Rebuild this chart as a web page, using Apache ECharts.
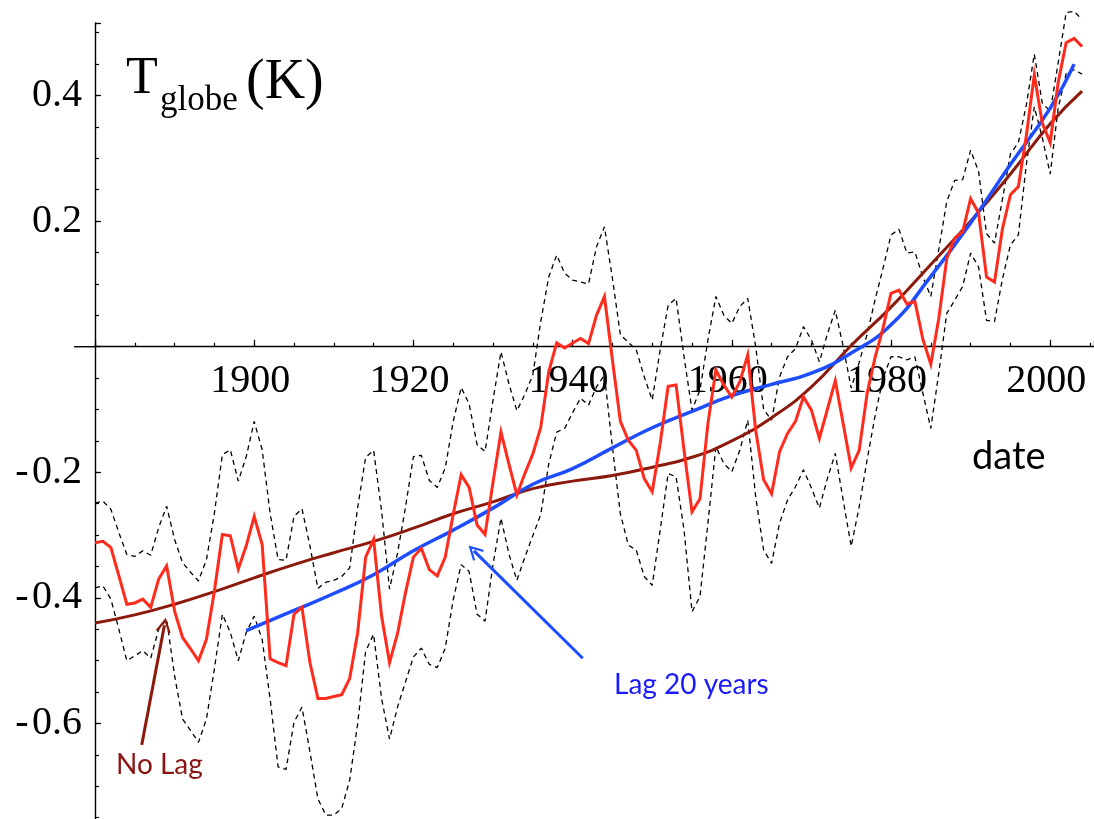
<!DOCTYPE html>
<html>
<head>
<meta charset="utf-8">
<style>
  html, body { margin: 0; padding: 0; background: #ffffff; }
  #chart { width: 1094px; height: 819px; }
</style>
<script src="https://cdn.jsdelivr.net/npm/echarts@6/dist/echarts.min.js"></script>
</head>
<body>
<div id="chart"></div>
<script>
// Annual global temperature anomaly (K), one value per year from 1880
const firstYear = 1880;
const anomaly = [
  -0.312, -0.310, -0.320, -0.365, -0.410, -0.408, -0.402, -0.415, -0.370, -0.349,
  -0.421, -0.463, -0.481, -0.500, -0.466, -0.389, -0.299, -0.301, -0.354, -0.317,
  -0.270, -0.315, -0.497, -0.503, -0.508, -0.426, -0.415, -0.503, -0.560, -0.560,
  -0.557, -0.554, -0.528, -0.455, -0.335, -0.307, -0.429, -0.503, -0.457, -0.392,
  -0.335, -0.321, -0.355, -0.365, -0.335, -0.267, -0.204, -0.224, -0.284, -0.299,
  -0.216, -0.136, -0.187, -0.236, -0.202, -0.171, -0.128, -0.040, 0.006, -0.002,
  0.006, 0.013, 0.005, 0.050, 0.080, -0.021, -0.119, -0.149, -0.165, -0.210,
  -0.231, -0.154, -0.063, -0.061, -0.165, -0.263, -0.242, -0.122, -0.037, -0.061,
  -0.080, -0.056, -0.013, -0.133, -0.212, -0.234, -0.167, -0.138, -0.119, -0.080,
  -0.101, -0.146, -0.100, -0.054, -0.123, -0.193, -0.165, -0.074, -0.017, 0.030,
  0.085, 0.090, 0.068, 0.072, 0.012, -0.028, 0.045, 0.140, 0.173, 0.183,
  0.236, 0.213, 0.111, 0.103, 0.188, 0.242, 0.255, 0.336, 0.433, 0.356,
  0.325, 0.421, 0.484, 0.491, 0.478
];

// Upper edge of the uncertainty band
const upperBound = [
  -0.249, -0.246, -0.259, -0.296, -0.331, -0.334, -0.325, -0.332, -0.288, -0.254,
  -0.307, -0.344, -0.359, -0.373, -0.339, -0.265, -0.172, -0.164, -0.214, -0.175,
  -0.119, -0.164, -0.265, -0.339, -0.340, -0.270, -0.258, -0.317, -0.385, -0.375,
  -0.372, -0.366, -0.352, -0.256, -0.176, -0.165, -0.261, -0.386, -0.329, -0.256,
  -0.175, -0.173, -0.213, -0.224, -0.193, -0.119, -0.065, -0.091, -0.156, -0.167,
  -0.085, -0.008, -0.059, -0.102, -0.076, -0.045, 0.040, 0.111, 0.146, 0.117,
  0.106, 0.103, 0.100, 0.159, 0.191, 0.109, 0.019, 0.007, -0.005, -0.048,
  -0.085, -0.005, 0.066, 0.077, -0.016, -0.101, -0.069, 0.011, 0.080, 0.050,
  0.037, 0.064, 0.077, 0.000, -0.100, -0.117, -0.048, -0.016, -0.003, 0.032,
  0.011, -0.024, 0.020, 0.058, 0.000, -0.066, -0.025, 0.020, 0.075, 0.125,
  0.178, 0.187, 0.149, 0.151, 0.111, 0.080, 0.155, 0.231, 0.265, 0.266,
  0.313, 0.279, 0.180, 0.165, 0.235, 0.307, 0.325, 0.385, 0.466, 0.388,
  0.375, 0.452, 0.532, 0.534, 0.521
];

// Lower edge of the uncertainty band
const lowerBound = [
  -0.384, -0.381, -0.402, -0.450, -0.500, -0.492, -0.484, -0.496, -0.450, -0.434,
  -0.524, -0.593, -0.611, -0.630, -0.593, -0.513, -0.426, -0.455, -0.500, -0.455,
  -0.429, -0.466, -0.561, -0.669, -0.673, -0.598, -0.574, -0.645, -0.720, -0.746,
  -0.746, -0.735, -0.690, -0.600, -0.485, -0.458, -0.560, -0.625, -0.574, -0.534,
  -0.494, -0.480, -0.506, -0.511, -0.480, -0.403, -0.347, -0.358, -0.426, -0.437,
  -0.347, -0.273, -0.330, -0.372, -0.335, -0.301, -0.267, -0.187, -0.136, -0.130,
  -0.105, -0.082, -0.093, -0.064, -0.045, -0.160, -0.266, -0.316, -0.324, -0.366,
  -0.380, -0.292, -0.202, -0.207, -0.292, -0.422, -0.398, -0.281, -0.159, -0.186,
  -0.199, -0.165, -0.117, -0.239, -0.324, -0.345, -0.281, -0.244, -0.223, -0.196,
  -0.225, -0.257, -0.210, -0.170, -0.245, -0.318, -0.255, -0.180, -0.110, -0.050,
  -0.016, -0.016, -0.021, -0.016, -0.074, -0.130, -0.042, 0.053, 0.074, 0.096,
  0.149, 0.127, 0.042, 0.040, 0.108, 0.162, 0.178, 0.290, 0.382, 0.333,
  0.275, 0.380, 0.435, 0.441, 0.434
];

// Model response without lag
const noLagYears = [1880, 1885, 1890, 1895, 1900, 1905, 1910, 1915, 1920, 1925, 1930, 1935, 1940,
  1945, 1950, 1955, 1960, 1965, 1970, 1975, 1980, 1985, 1990, 1995, 2000, 2004];
const noLagValues = [-0.440, -0.427, -0.410, -0.390, -0.368, -0.347, -0.328, -0.310, -0.289, -0.266,
  -0.247, -0.226, -0.214, -0.205, -0.192, -0.176, -0.150, -0.113, -0.064, 0.002, 0.063, 0.131,
  0.200, 0.275, 0.355, 0.407];

// Model response with a 20-year lag
const lag20Years = [1899, 1905, 1910, 1915, 1920, 1925, 1930, 1935, 1940, 1945, 1950, 1955,
  1960, 1965, 1970, 1975, 1980, 1985, 1990, 1995, 2000, 2003];
const lag20Values = [-0.452, -0.420, -0.393, -0.363, -0.325, -0.292, -0.257, -0.219, -0.194,
  -0.161, -0.129, -0.103, -0.078, -0.060, -0.042, -0.010, 0.035, 0.112, 0.197, 0.290, 0.380, 0.450];

// Tick labels
const yearTickLabels = [1900, 1920, 1940, 1960, 1980, 2000];
const tempTickLabels = [-0.6, -0.4, -0.2, 0.2, 0.4];

const years = anomaly.map((_, i) => firstYear + i);
const pairs = (xs, ys) => ys.map((v, i) => [xs[i], v]);

const serif = '"Liberation Serif", "DejaVu Serif", serif';
const sans = 'Lato, "Open Sans", "Liberation Sans", sans-serif';
const RED = '#ff2b1c';
const DARK_RED = '#8c1a0c';
const BLUE = '#1d4dff';

// chevron-shaped open arrowhead
const arrowHead = 'path://M0,0L12,16L9.2,17.6L0,5.2L-9.2,17.6L-12,16Z';

const X_MIN = 1880, X_MAX = 2005.5;
const Y_MIN = -0.8, Y_MAX = 0.5155;

// Plot layout (pixels)
const W = 1094, H = 819;
const PLOT_LEFT = 95, PLOT_TOP = 23, PLOT_BOTTOM = -30.1;
const plotHeight = H - PLOT_TOP - PLOT_BOTTOM;
const zeroY = PLOT_TOP + (Y_MAX / (Y_MAX - Y_MIN)) * plotHeight;

const yearLabel = (v) => {
  const n = Math.round(Number(v));
  return (yearTickLabels.indexOf(n) >= 0 && Math.abs(Number(v) - n) < 1e-6) ? String(n) : '';
};
const tempLabel = (v) => {
  const hit = tempTickLabels.find(t => Math.abs(t - Number(v)) < 1e-6);
  if (hit === undefined) return '';
  return hit < 0 ? '-\u200A' + (-hit).toFixed(1) : hit.toFixed(1);
};

const chart = echarts.init(document.getElementById('chart'), null, { renderer: 'canvas' });

chart.setOption({
  animation: false,
  backgroundColor: '#ffffff',
  grid: [
    // data area
    { left: PLOT_LEFT, right: 0, top: PLOT_TOP, bottom: PLOT_BOTTOM, containLabel: false, outerBoundsMode: 'none' },
    // band whose lower edge is the zero line; carries the year axis
    { left: PLOT_LEFT, right: 0, top: PLOT_TOP, bottom: H - zeroY, containLabel: false, outerBoundsMode: 'none' }
  ],
  xAxis: [
    {
      gridIndex: 0, type: 'value', min: X_MIN, max: X_MAX, show: false,
      splitLine: { show: false }
    },
    {
      // 5-year ticks with labels every 20 years
      gridIndex: 1, type: 'value', min: X_MIN, max: X_MAX, position: 'bottom', interval: 5,
      splitLine: { show: false },
      axisLine: { onZero: false, lineStyle: { color: '#000', width: 1.4 } },
      axisTick: { inside: true, length: 4, lineStyle: { color: '#000', width: 1.2 } },
      axisLabel: {
        margin: 15,
        color: '#000',
        fontFamily: serif,
        fontSize: 40,
        lineHeight: 40,
        padding: [0, 8, 0, 0],
        formatter: yearLabel
      }
    },
    {
      // longer ticks every 20 years
      gridIndex: 1, type: 'value', min: X_MIN, max: X_MAX, position: 'bottom', interval: 20,
      splitLine: { show: false },
      axisLine: { show: true, onZero: false, lineStyle: { color: '#000', opacity: 0 } },
      axisTick: { inside: true, length: 7, lineStyle: { color: '#000', width: 1.2 } },
      axisLabel: { show: false }
    }
  ],
  yAxis: [
    {
      gridIndex: 0, type: 'value', min: Y_MIN, max: Y_MAX, position: 'left', interval: 0.05,
      splitLine: { show: false },
      axisLine: { onZero: false, lineStyle: { color: '#000', width: 1.4 } },
      axisTick: { inside: true, length: 4, lineStyle: { color: '#000', width: 1.2 } },
      axisLabel: { show: false }
    },
    {
      gridIndex: 0, type: 'value', min: Y_MIN, max: Y_MAX, position: 'left', interval: 0.2,
      splitLine: { show: false },
      axisLine: { show: true, onZero: false, lineStyle: { color: '#000', opacity: 0 } },
      axisTick: { inside: true, length: 6, lineStyle: { color: '#000', width: 1.2 } },
      axisLabel: {
        margin: 13,
        color: '#000',
        fontFamily: serif,
        fontSize: 40,
        lineHeight: 40,
        padding: [0, 0, 14, 0],
        formatter: tempLabel
      }
    },
    {
      gridIndex: 1, type: 'value', min: 0, max: 1, show: false,
      splitLine: { show: false }
    }
  ],
  series: [
    {
      name: 'upper', type: 'line', data: pairs(years, upperBound),
      xAxisIndex: 0, yAxisIndex: 0,
      symbol: 'none', clip: false, silent: true, z: 2,
      lineStyle: { color: '#000', width: 1.3, type: [5, 4] }
    },
    {
      name: 'lower', type: 'line', data: pairs(years, lowerBound),
      xAxisIndex: 0, yAxisIndex: 0,
      symbol: 'none', clip: false, silent: true, z: 2,
      lineStyle: { color: '#000', width: 1.3, type: [5, 4] }
    },
    {
      name: 'No Lag', type: 'line', data: pairs(noLagYears, noLagValues),
      xAxisIndex: 0, yAxisIndex: 0,
      symbol: 'none', smooth: 0.5, clip: false, silent: true, z: 3,
      lineStyle: { color: DARK_RED, width: 3 },
      markLine: {
        silent: true, animation: false,
        symbol: ['none', arrowHead], symbolSize: [15, 15],
        label: { show: false },
        lineStyle: { color: DARK_RED, width: 3, type: 'solid' },
        data: [[ { coord: [1885.87, -0.634] }, { coord: [1888.72, -0.4435] } ]]
      }
    },
    {
      name: 'Lag 20 years', type: 'line', data: pairs(lag20Years, lag20Values),
      xAxisIndex: 0, yAxisIndex: 0,
      symbol: 'none', smooth: 0.5, clip: false, silent: true, z: 4,
      lineStyle: { color: BLUE, width: 3.5 },
      markLine: {
        silent: true, animation: false,
        symbol: ['none', arrowHead], symbolSize: [15, 15],
        label: { show: false },
        lineStyle: { color: BLUE, width: 3, type: 'solid' },
        data: [[ { coord: [1941.27, -0.496] }, { coord: [1927.6, -0.325] } ]]
      }
    },
    {
      name: 'T globe', type: 'line', data: pairs(years, anomaly),
      xAxisIndex: 0, yAxisIndex: 0,
      symbol: 'none', clip: false, silent: true, z: 5,
      lineStyle: { color: RED, width: 3, join: 'miter' }
    }
  ]
});

// Axis line continues a little to the left of the vertical axis, plus the texts
const origin = chart.convertToPixel({ xAxisIndex: 0, yAxisIndex: 0 }, [X_MIN, 0]);
chart.setOption({
  graphic: [
    {
      type: 'line', silent: true, z: 10,
      shape: { x1: origin[0] - 21, y1: origin[1], x2: origin[0], y2: origin[1] },
      style: { stroke: '#000', lineWidth: 1.4 }
    },
    {
      type: 'text', x: 126, y: 79, silent: true, z: 10,
      style: { text: 'T', font: '52px ' + serif, fill: '#000', align: 'left', verticalAlign: 'middle' }
    },
    {
      type: 'text', x: 160, y: 101, silent: true, z: 10,
      style: { text: 'globe', font: '35px ' + serif, fill: '#000', align: 'left', verticalAlign: 'middle' }
    },
    {
      type: 'text', x: 246, y: 83, silent: true, z: 10,
      style: { text: '(K)', font: '56px ' + serif, fill: '#000', align: 'left', verticalAlign: 'middle' }
    },
    {
      type: 'text', x: 972, y: 457, silent: true, z: 10,
      style: { text: 'date', font: '38px ' + sans, fill: '#000', align: 'left', verticalAlign: 'middle' }
    },
    {
      type: 'text', x: 116, y: 765, silent: true, z: 10,
      style: { text: 'No Lag', font: '28px ' + sans, fill: '#8b1414', align: 'left', verticalAlign: 'middle' }
    },
    {
      type: 'text', x: 614, y: 685, silent: true, z: 10,
      style: { text: 'Lag 20 years', font: '28px ' + sans, fill: '#1a1aff', align: 'left', verticalAlign: 'middle' }
    }
  ]
});
</script>
</body>
</html>
